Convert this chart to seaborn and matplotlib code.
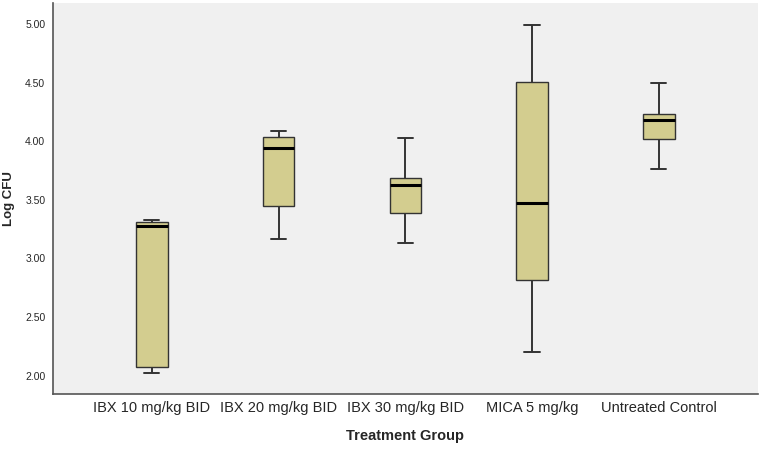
import numpy as np
import pandas as pd
import matplotlib
matplotlib.use("Agg")
import matplotlib.pyplot as plt
import seaborn as sns

groups = ["IBX 10 mg/kg BID", "IBX 20 mg/kg BID", "IBX 30 mg/kg BID",
          "MICA 5 mg/kg", "Untreated Control"]
# five-number summaries: min, Q1, median, Q3, max
ibx10 = [2.02, 2.07, 3.28, 3.31, 3.33]
ibx20 = [3.17, 3.45, 3.94, 4.04, 4.09]
ibx30 = [3.13, 3.39, 3.63, 3.69, 4.03]
mica5 = [2.20, 2.82, 3.47, 4.51, 4.99]
untreated = [3.76, 4.02, 4.18, 4.23, 4.50]
yticks = [2.00, 2.50, 3.00, 3.50, 4.00, 4.50, 5.00]

series = [ibx10, ibx20, ibx30, mica5, untreated]
df = pd.DataFrame({
    "Treatment Group": np.repeat(groups, [len(s) for s in series]),
    "Log CFU": np.concatenate(series),
})

sns.set_style("white")
plt.rcParams["font.family"] = ["Liberation Sans", "DejaVu Sans"]

fig = plt.figure(figsize=(7.6, 4.49), dpi=100)
ax = fig.add_axes([0.0697, 0.1225, 0.9273, 0.8708])
ax.set_facecolor("#F0F0F0")

sns.boxplot(data=df, x="Treatment Group", y="Log CFU", order=groups,
            whis=np.inf, width=0.25, color="#D3CD8F", saturation=1,
            linewidth=1.0, linecolor="#333333",
            medianprops=dict(color="black", linewidth=2.2),
            whiskerprops=dict(color="#333333", linewidth=1.4),
            capprops=dict(color="#333333", linewidth=1.4),
            boxprops=dict(edgecolor="#333333", linewidth=1.0),
            capwidths=0.12, ax=ax)

ax.set_xlim(-0.78, 4.78)
ax.set_ylim(1.843, 5.18)
ax.set_yticks(yticks)
ax.set_yticklabels([f"{v:.2f}" for v in yticks], fontsize=7.5)
ax.tick_params(axis="x", labelsize=10.5, length=0, pad=5)
ax.tick_params(axis="y", length=0, pad=5.5)

for s in ["top", "right"]:
    ax.spines[s].set_visible(False)
for s in ["left", "bottom"]:
    ax.spines[s].set_color("#555555")
    ax.spines[s].set_linewidth(1.2)

ax.set_xlabel("Treatment Group", fontsize=10.5, fontweight="bold", labelpad=10)
ax.set_ylabel("Log CFU", fontsize=9.5, fontweight="bold", labelpad=7)

fig.savefig("out.png", dpi=100)
